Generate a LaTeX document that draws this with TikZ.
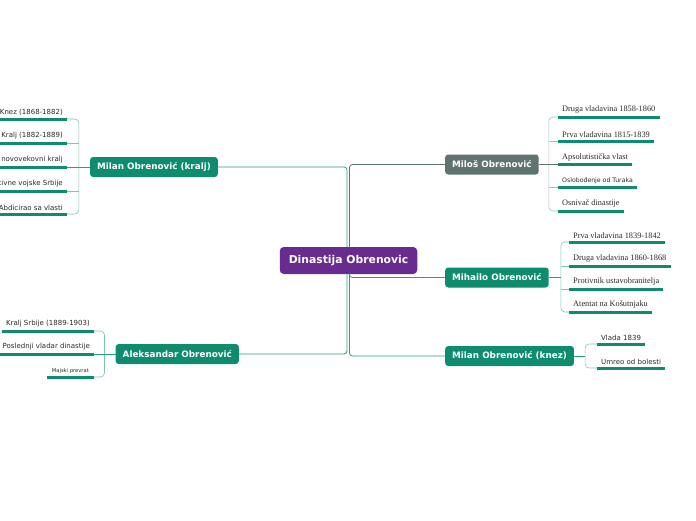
\documentclass[tikz,border=0pt]{standalone}
\usepackage{fontspec}
\setmainfont{DejaVu Sans}
\newfontfamily\leafserif{Liberation Serif}
\usetikzlibrary{calc}

\definecolor{dyncol}{RGB}{104,43,142}
\definecolor{topcol}{RGB}{14,140,110}
\definecolor{greycol}{RGB}{95,115,112}
\definecolor{linecol}{RGB}{40,160,128}
\definecolor{brkcol}{RGB}{120,200,178}
\definecolor{greybrk}{RGB}{175,188,186}
\definecolor{txtcol}{RGB}{40,40,40}

\tikzset{
  root/.style={fill=dyncol, text=white, font=\bfseries\fontsize{10.8}{13}\selectfont,
    rounded corners=4pt, minimum height=27pt, inner xsep=9pt},
  topic/.style={fill=topcol, text=white, font=\bfseries\fontsize{8.8}{10}\selectfont,
    rounded corners=3pt, minimum height=20pt, inner xsep=7pt},
  leaf/.style={text=txtcol, font=\fontsize{7}{8}\selectfont, inner xsep=4pt, inner ysep=3.5pt},
  leafser/.style={leaf, font=\leafserif\fontsize{8.3}{9}\selectfont},
  leafsmall/.style={leaf, font=\fontsize{5.2}{6}\selectfont, inner xsep=5pt},
  trunk/.style={draw=linecol, line width=0.8pt, rounded corners=3pt},
  brk/.style={draw=brkcol, line width=0.6pt, rounded corners=4pt},
  uline/.style={draw=topcol, line width=3pt}
}

\begin{document}
\begin{tikzpicture}[x=1pt,y=-1pt]
\useasboundingbox (0,0) rectangle (696,520);
\clip (0,0) rectangle (696,520);

% main topics
\node[root] (dyn) at (348.5,260.5) {Dinastija Obrenovic};
\node[topic, fill=greycol, anchor=west] (milos) at (445,164.5) {Miloš Obrenović};
\node[topic, anchor=west] (mihailo) at (445,277.5) {Mihailo Obrenović};
\node[topic, anchor=west] (knez) at (445,356) {Milan Obrenović (knez)};
\node[topic, anchor=east] (kralj) at (218,167) {Milan Obrenović (kralj)};
\node[topic, anchor=east] (aleks) at (239,354) {Aleksandar Obrenović};

\draw[trunk, draw=greycol] ($(dyn.north)+(1,0)$) |- (milos.west);
\draw[trunk] ($(dyn.south)+(1,0)$) |- (mihailo.west);
\draw[trunk] ($(dyn.south)+(1,0)$) |- (knez.west);
\draw[trunk] ($(dyn.north)+(-1.5,0)$) |- (kralj.east);
\draw[trunk] ($(dyn.south)+(-1.5,0)$) |- (aleks.east);

% Milos
\node[leafser, anchor=south west] (ms1) at (558,117) {Druga vladavina 1858-1860};
\node[leafser, anchor=south west] (ms2) at (558,141) {Prva vladavina 1815-1839};
\node[leafser, anchor=south west] (ms3) at (558,164.5) {Apsolutistička vlast};
\node[leaf, font=\fontsize{6.2}{7}\selectfont, anchor=south west] (ms4) at (558,187) {Oslobođenje od Turaka};
\node[leafser, anchor=south west] (ms5) at (558,211) {Osnivač dinastije};
\coordinate (msb) at ($(milos.east)+(10,0)$);
\draw[brk, draw=greybrk] (ms1.south west) -| (msb) |- (ms5.south west);
\draw[brk, draw=greybrk] (ms2.south west) -- (ms2.south west -| msb);
\draw[brk, draw=greybrk] (ms4.south west) -- (ms4.south west -| msb);
\draw[draw=greycol, line width=0.8pt] (milos.east) -- (ms3.south west);

% Mihailo
\node[leafser, anchor=south west] (mh1) at (569,242) {Prva vladavina 1839-1842};
\node[leafser, anchor=south west] (mh2) at (569,266) {Druga vladavina 1860-1868};
\node[leafser, anchor=south west] (mh3) at (569,289) {Protivnik ustavobranitelja};
\node[leafser, anchor=south west] (mh4) at (569,312) {Atentat na Košutnjaku};
\coordinate (mhb) at ($(mihailo.east)+(12,0)$);
\draw[brk] (mh1.south west) -| (mhb) |- (mh4.south west);
\draw[brk] (mh2.south west) -- (mh2.south west -| mhb);
\draw[brk] (mh3.south west) -- (mh3.south west -| mhb);
\draw[trunk] (mihailo.east) -- (mhb);

% Milan (knez)
\node[leaf, anchor=south west] (kn1) at (597,344) {Vlada 1839};
\node[leaf, anchor=south west] (kn2) at (597,368) {Umreo od bolesti};
\coordinate (knb) at ($(knez.east)+(11,0)$);
\draw[brk] (kn1.south west) -| (knb) |- (kn2.south west);
\draw[trunk] (knez.east) -- (knb);

% Milan (kralj)
\node[leaf, anchor=south east] (kr1) at (67,119) {Knez (1868-1882)};
\node[leaf, anchor=south east] (kr2) at (67,143) {Kralj (1882-1889)};
\node[leaf, anchor=south east] (kr3) at (67,167) {Prvi novovekovni kralj};
\node[leaf, anchor=south east] (kr4) at (67,191) {Osnivač aktivne vojske Srbije};
\node[leaf, anchor=south east] (kr5) at (67,214) {Abdicirao sa vlasti};
\coordinate (krb) at ($(kralj.west)+(-11,0)$);
\draw[brk] (kr1.south east) -| (krb) |- (kr5.south east);
\draw[brk] (kr2.south east) -- (kr2.south east -| krb);
\draw[brk] (kr4.south east) -- (kr4.south east -| krb);
\draw[trunk] (kralj.west) -- (kr3.south east);

% Aleksandar
\node[leaf, anchor=south east] (al1) at (94,331) {Kralj Srbije (1889-1903)};
\node[leaf, anchor=south east] (al2) at (94,354) {Poslednji vladar dinastije};
\node[leafsmall, anchor=south east] (al3) at (94,377) {Majski prevrat};
\coordinate (alb) at ($(aleks.west)+(-11,0)$);
\draw[brk] (al1.south east) -| (alb) |- (al3.south east);
\draw[trunk] (aleks.west) -- (al2.south east);

% underlines
\foreach \n in {ms1,ms2,ms3,ms4,ms5,mh1,mh2,mh3,mh4,kn1,kn2,kr1,kr2,kr3,kr4,kr5,al1,al2,al3}
  \draw[uline] (\n.south west) -- (\n.south east);
\end{tikzpicture}
\end{document}
